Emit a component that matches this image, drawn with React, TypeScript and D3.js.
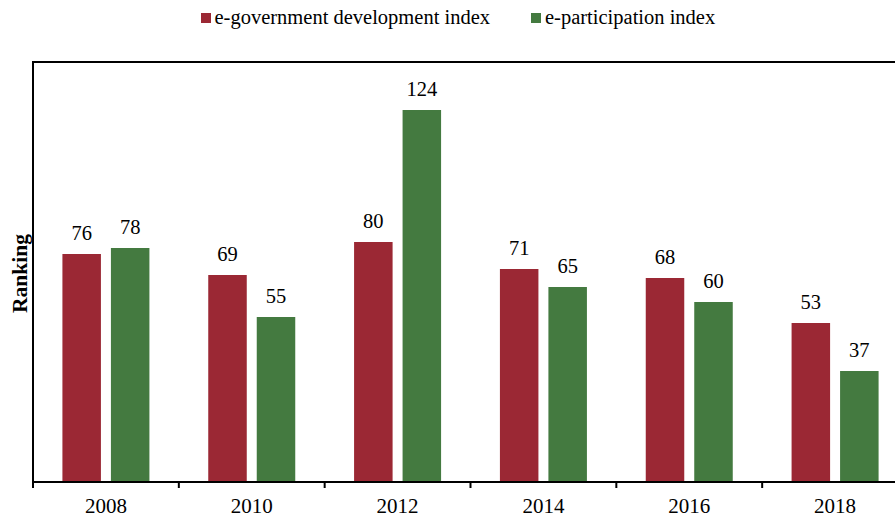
import React from "react";
import * as d3 from "d3";

const years = ["2008", "2010", "2012", "2014", "2016", "2018"];
const egovIndex = [76, 69, 80, 71, 68, 53];
const epartIndex = [78, 55, 124, 65, 60, 37];
const seriesNames = ["e-government development index", "e-participation index"];
const seriesColors = ["#9b2834", "#447a40"];

export default function App() {
  const W = 895, H = 517;
  const left = 33, right = 908, top = 62, bottom = 482;
  const x = d3.scaleBand<string>().domain(years).range([left, right]).paddingInner(0).paddingOuter(0);
  const groupW = 87;
  const x1 = d3.scaleBand<number>().domain([0, 1]).range([0, groupW]).paddingInner(0.206);
  const y = d3.scaleLinear().domain([0, 140]).range([bottom, top]);
  const font = "'Liberation Serif', 'Times New Roman', serif";
  const series = [egovIndex, epartIndex];
  const off = (x.bandwidth() - groupW) / 2;
  const ticks = [...years.map((d) => x(d)!), right];
  return (
    <svg width={W} height={H} style={{ position: "absolute", left: 0, top: 0 }} fontFamily={font}>
      <rect x={0} y={0} width={W} height={H} fill="#fff" />
      {/* legend */}
      <g>
        <rect x={201} y={13} width={10} height={10} fill={seriesColors[0]} />
        <text x={214.5} y={24} fontSize={20.5} fill="#000">{seriesNames[0]}</text>
        <rect x={531} y={13} width={10} height={10} fill={seriesColors[1]} />
        <text x={545} y={24} fontSize={20.5} fill="#000">{seriesNames[1]}</text>
      </g>
      {/* bars */}
      {years.map((yr, i) => (
        <g key={yr}>
          {series.map((s, j) => {
            const bx = x(yr)! + off + x1(j)!;
            return (
              <g key={j}>
                <rect x={bx} y={y(s[i])} width={x1.bandwidth()} height={bottom - y(s[i])} fill={seriesColors[j]} />
                <text x={bx + x1.bandwidth() / 2} y={y(s[i]) - 14} textAnchor="middle" fontSize={20.5} fill="#000">
                  {s[i]}
                </text>
              </g>
            );
          })}
        </g>
      ))}
      {/* frame */}
      <line x1={left} x2={right} y1={top} y2={top} stroke="#000" strokeWidth={2} />
      <line x1={left} x2={left} y1={top - 1} y2={bottom + 6} stroke="#000" strokeWidth={2} />
      <line x1={left} x2={right} y1={bottom} y2={bottom} stroke="#000" strokeWidth={2} />
      {ticks.map((t, i) => (
        <line key={i} x1={t} x2={t} y1={bottom} y2={bottom + 6} stroke="#000" strokeWidth={2} />
      ))}
      {years.map((yr) => (
        <text key={yr} x={x(yr)! + x.bandwidth() / 2} y={512.5} textAnchor="middle" fontSize={21} fill="#000">
          {yr}
        </text>
      ))}
      <text transform={`translate(27, 273.5) rotate(-90)`} textAnchor="middle" fontSize={21.5} fontWeight="bold" fill="#000">
        Ranking
      </text>
    </svg>
  );
}
